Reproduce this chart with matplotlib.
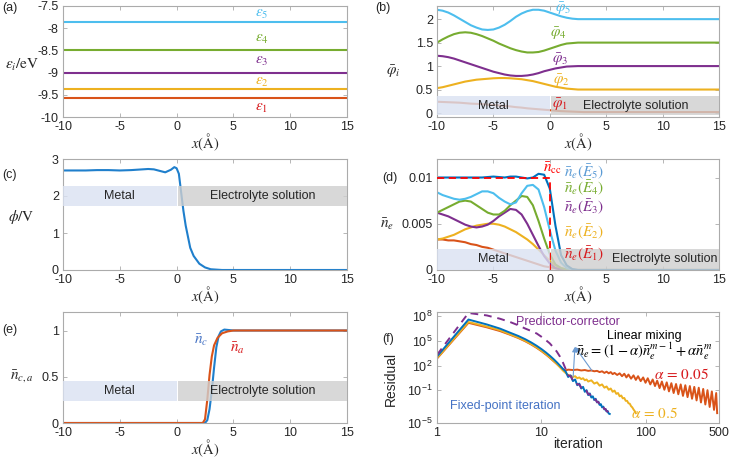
import matplotlib

matplotlib.use("Agg")
import matplotlib.pyplot as plt
import numpy as np

plt.rcParams["font.family"] = ["Liberation Sans", "DejaVu Sans"]
plt.rcParams["mathtext.fontset"] = "stix"
plt.rcParams["axes.unicode_minus"] = False

BLUE = "#0072BD"
ORANGE = "#D95319"
YELLOW = "#EDB120"
PURPLE = "#7E2F8E"
GREEN = "#77AC30"
CYAN = "#4DBEEE"
RED = "#D7191C"
INK = "#262626"
FRAME = "#ababab"

# (a) eigen-energies, flat in x
x_range = [-10, 15]
eps_levels = [-9.57, -9.36, -9.0, -8.48, -7.85]
eps_labels = [r"$\varepsilon_1$", r"$\varepsilon_2$", r"$\varepsilon_3$", r"$\varepsilon_4$", r"$\varepsilon_5$"]
eps_label_y = [-9.8, -9.22, -8.75, -8.25, -7.67]

# shared grid for (b) and (d)
x_grid = [-10, -9.5, -9, -8.5, -8, -7.5, -7, -6.5, -6, -5.5, -5, -4.5, -4, -3.5, -3,
          -2.5, -2, -1.5, -1, -0.5, 0, 0.5, 1, 1.5, 2, 2.5, 3, 4, 15]

# (b) wave functions (offset)
phi1 = [0.24, 0.235, 0.23, 0.225, 0.22, 0.21, 0.20, 0.195, 0.19, 0.18, 0.17, 0.16, 0.15, 0.14, 0.125,
        0.115, 0.10, 0.09, 0.08, 0.07, 0.06, 0.05, 0.04, 0.035, 0.03, 0.025, 0.02, 0.02, 0.02]
phi2 = [0.53, 0.55, 0.58, 0.61, 0.64, 0.67, 0.69, 0.71, 0.72, 0.73, 0.74, 0.745, 0.745, 0.74, 0.73,
        0.72, 0.70, 0.68, 0.65, 0.62, 0.59, 0.56, 0.54, 0.52, 0.51, 0.50, 0.50, 0.50, 0.50]
phi3 = [1.22, 1.21, 1.19, 1.16, 1.12, 1.08, 1.04, 1.00, 0.96, 0.92, 0.88, 0.85, 0.82, 0.80, 0.79,
        0.79, 0.80, 0.82, 0.85, 0.89, 0.92, 0.95, 0.97, 0.99, 0.995, 1.0, 1.0, 1.0, 1.0]
phi4 = [1.50, 1.57, 1.63, 1.68, 1.71, 1.72, 1.71, 1.68, 1.64, 1.59, 1.54, 1.48, 1.43, 1.38, 1.34,
        1.31, 1.29, 1.29, 1.30, 1.33, 1.37, 1.41, 1.45, 1.48, 1.49, 1.50, 1.50, 1.50, 1.50]
phi5 = [2.20, 2.18, 2.14, 2.08, 2.01, 1.94, 1.87, 1.82, 1.78, 1.77, 1.78, 1.82, 1.88, 1.96, 2.05,
        2.12, 2.17, 2.20, 2.20, 2.18, 2.14, 2.10, 2.06, 2.03, 2.01, 2.00, 2.00, 2.00, 2.00]
phi_label_xy = [(0.9, 0.17), (1.05, 0.70), (0.9, 1.13), (0.75, 1.70), (1.17, 2.23)]

# (c) electrostatic potential
x_pot = [-10, -9, -8, -7, -6, -5, -4, -3, -2.5, -2, -1.5, -1, -0.5, -0.2, 0, 0.2, 0.4, 0.6,
         0.8, 1.0, 1.2, 1.5, 2.0, 2.5, 3, 4, 15]
pot = [2.69, 2.69, 2.69, 2.70, 2.70, 2.69, 2.70, 2.72, 2.73, 2.72, 2.68, 2.64, 2.71, 2.78, 2.75, 2.6,
       2.1, 1.6, 1.2, 0.9, 0.6, 0.38, 0.17, 0.07, 0.02, 0.0, 0.0]

# (d) electron densities
n_total = [0.0100, 0.0100, 0.0100, 0.0100, 0.0100, 0.0100, 0.0100, 0.0100, 0.0100, 0.01005, 0.0101,
           0.01005, 0.0100, 0.0101, 0.0101, 0.0100, 0.0099, 0.0100, 0.0104, 0.0103, 0.0088, 0.0048,
           0.0016, 0.0005, 0.0001, 0, 0, 0, 0]
n_e5 = [0.0084, 0.0081, 0.0079, 0.0077, 0.0076, 0.0077, 0.0079, 0.0082, 0.0085, 0.0085, 0.0083, 0.0078,
        0.0074, 0.0071, 0.0073, 0.0083, 0.0091, 0.0092, 0.0087, 0.0068, 0.0043, 0.0021, 0.0008, 0.0002,
        0.00005, 0, 0, 0, 0]
n_e4 = [0.0062, 0.0065, 0.0068, 0.0071, 0.0074, 0.0075, 0.0074, 0.0070, 0.0066, 0.0062, 0.0060, 0.0060,
        0.0064, 0.0070, 0.0075, 0.0080, 0.0079, 0.0070, 0.0053, 0.0034, 0.0017, 0.0006, 0.0002, 0.00005,
        0, 0, 0, 0, 0]
n_e3 = [0.0062, 0.0060, 0.0058, 0.0055, 0.0052, 0.0049, 0.0047, 0.0046, 0.0047, 0.0049, 0.0053, 0.0058,
        0.0062, 0.0066, 0.0065, 0.0060, 0.0050, 0.0038, 0.0026, 0.0015, 0.0007, 0.0002, 0.00005, 0,
        0, 0, 0, 0, 0]
n_e2 = [0.0033, 0.0034, 0.0036, 0.0038, 0.0041, 0.0044, 0.0046, 0.0048, 0.0049, 0.0050, 0.0050, 0.0049,
        0.0047, 0.0044, 0.0041, 0.0037, 0.0033, 0.0028, 0.0022, 0.0016, 0.0010, 0.0005, 0.0002, 0.00005,
        0, 0, 0, 0, 0]
n_e1 = [0.0033, 0.0033, 0.0032, 0.0032, 0.0031, 0.0030, 0.0028, 0.0027, 0.0025, 0.0024, 0.0022, 0.0020,
        0.0018, 0.0016, 0.0014, 0.0012, 0.0010, 0.0008, 0.0006, 0.0004, 0.0003, 0.0002, 0.0001, 0.00005,
        0, 0, 0, 0, 0]
n_cc = 0.01
n_label_y = [0.0017, 0.0041, 0.0068, 0.0088, 0.0106]

# (e) ion densities
x_cation = [-10, 2.5, 2.7, 2.9, 3.1, 3.3, 3.5, 3.7, 3.9, 4.2, 4.6, 5, 15]
n_cation = [0, 0, 0.03, 0.15, 0.35, 0.6, 0.82, 0.94, 0.99, 1.01, 1.005, 1.0, 1.0]
x_anion = [-10, 2.3, 2.5, 2.7, 2.9, 3.1, 3.3, 3.6, 4.0, 4.5, 5, 15]
n_anion = [0, 0, 0.04, 0.25, 0.52, 0.72, 0.84, 0.92, 0.97, 0.99, 1.0, 1.0]

# (f) convergence histories, log10(residual)
fixed_log = [3.1, 7.6, 7.0, 6.5, 6.0, 5.6, 5.2, 4.8, 4.4, 4.0, 3.6, 3.2, 2.8, 2.4, 2.0, 1.6, 1.3,
             0.6, 0.8, 0.1, 0.3, -0.4, -0.2, -0.8, -0.6, -1.2, -1.0, -1.6, -1.4, -1.9, -1.75, -2.2,
             -2.05, -2.5, -2.4, -2.8, -2.7, -3.1, -3.0, -3.35, -3.3, -3.6, -3.55, -3.85, -3.9]
pc_log = [3.3, 8.4, 8.1, 7.7, 7.3, 6.9, 6.5, 6.2, 5.9, 5.5, 5.1, 4.7, 4.2, 3.7, 3.1, 2.4, 1.6, 0.8,
          0.7, 0.2, 0.2, -0.3, -0.3, -0.7, -0.7, -1.1, -1.1, -1.5, -1.5, -1.85, -1.85, -2.15, -2.15,
          -2.45, -2.45, -2.75, -2.75, -3.05, -3.05, -3.3, -3.3, -3.55, -3.6, -3.8, -3.85]
half_it = [1, 2, 3, 4, 5, 6, 7, 8, 9, 10, 11, 12, 13, 14, 15, 16, 17, 18, 19, 20, 21, 22, 23, 24, 25,
           26, 27, 28, 30, 32, 34, 36, 38, 40, 42, 44, 46, 48, 50, 52, 54, 56, 58, 60, 62, 64, 66,
           68, 70, 72, 74, 76, 78, 80]
half_log = [2.9, 7.3, 6.75, 6.3, 5.8, 5.4, 5.0, 4.6, 4.2, 3.8, 3.4, 3.0, 2.6, 2.2, 1.8, 1.4, 1.1,
            0.85, 0.75, 0.6, 0.7, 0.45, 0.55, 0.35, 0.45, 0.2, 0.3, 0.05, 0.2, -0.2, -0.05, -0.45,
            -0.3, -0.7, -0.55, -0.95, -0.8, -1.2, -1.05, -1.45, -1.35, -1.75, -1.65, -2.0, -1.95,
            -2.3, -2.3, -2.6, -2.65, -2.95, -3.1, -3.35, -3.55, -3.8]
slow_it = [1, 2, 3, 4, 5, 6, 7, 8, 9, 10, 11, 12, 13, 14, 15, 16, 17, 18, 20, 22, 24, 26, 28, 30,
           32, 34, 36, 38, 40, 42, 44, 46, 48, 50, 53, 56, 59, 62, 65, 68, 72, 76, 80, 84, 89, 94,
           99, 104, 110, 116, 122, 128, 135, 142, 150, 158, 166, 175, 184, 194, 204, 215, 226, 238,
           250, 263, 276, 290, 305, 320, 336, 353, 370, 388, 407, 427, 448, 470, 480]
slow_log = [2.85, 7.2, 6.65, 6.2, 5.75, 5.35, 4.95, 4.55, 4.15, 3.75, 3.35, 2.95, 2.55, 2.2, 1.85,
            1.55, 1.4, 1.5, 1.45, 1.5, 1.4, 1.45, 1.35, 1.4, 1.3, 1.35, 1.2, 1.3, 1.1, 1.25, 1.05,
            1.2, 0.95, 1.1, 0.85, 1.05, 0.7, 1.0, 0.55, 0.9, 0.4, 0.8, 0.25, 0.7, 0.1, 0.55, -0.1,
            0.45, -0.3, 0.3, -0.5, 0.15, -0.75, 0.05, -0.95, -0.05, -1.15, -0.15, -1.35, -0.25,
            -1.5, -0.3, -1.7, -0.4, -1.85, -0.5, -2.05, -0.6, -2.25, -0.7, -2.5, -0.85, -2.75, -1.0,
            -3.05, -1.15, -3.4, -1.35, -3.8]

metal_span = (-10, 0)
electrolyte_span = (0.15, 15)


def _style(ax, xticks, yticks, ylim, xlim=(-10, 15)):
    ax.set_xlim(*xlim)
    ax.set_ylim(*ylim)
    ax.set_xticks(xticks)
    ax.set_yticks(yticks)
    for s in ax.spines.values():
        s.set_color(FRAME)
        s.set_linewidth(0.8)
    ax.tick_params(direction="in", top=True, right=True, length=3, width=0.6,
                   color=FRAME, labelcolor=INK, labelsize=9, pad=3)
    ax.tick_params(which="minor", length=0)


def _xlabel(ax, text=r"$x(\mathrm{Å})$", size=10.5):
    ax.set_xlabel(text, fontsize=size, color=INK)
    ax.xaxis.set_label_coords(0.5, -0.13)


def _ylabel(ax, text, x, y, rotation=0, size=11):
    ax.set_ylabel(text, rotation=rotation, fontsize=size, color=INK, va="center", ha="center")
    ax.yaxis.set_label_coords(x, y)


def _regions(ax, y0, y1, metal_x=-5, sol_x=7.6):
    ax.fill_between(metal_span, y0, y1, color="#DAE2F2", alpha=0.8, lw=0, zorder=5)
    ax.fill_between(electrolyte_span, y0, y1, color="#CFCFCF", alpha=0.8, lw=0, zorder=5)
    ym = (y0 + y1) / 2
    ax.text(metal_x, ym, "Metal", ha="center", va="center", fontsize=9, color=INK, zorder=6)
    ax.text(sol_x, ym, "Electrolyte solution", ha="center", va="center", fontsize=9, color=INK, zorder=6)


fig = plt.figure(figsize=(7.3, 4.58), dpi=100)
L, R = 63 / 730, 437 / 730
WL, WR = 284 / 730, 282 / 730
H = 111 / 458
rows = [(458 - 117) / 458, (458 - 270) / 458, (458 - 423) / 458]

ax_a = fig.add_axes([L, rows[0], WL, H])
ax_b = fig.add_axes([R, rows[0], WR, H])
ax_c = fig.add_axes([L, rows[1], WL, H])
ax_d = fig.add_axes([R, rows[1], WR, H])
ax_e = fig.add_axes([L, rows[2], WL, H])
ax_f = fig.add_axes([R, rows[2], WR, H])
xt = [-10, -5, 0, 5, 10, 15]

# (a)
eps_colors = [ORANGE, YELLOW, PURPLE, GREEN, CYAN]
eps_text_colors = [RED, YELLOW, PURPLE, GREEN, CYAN]
for lvl, c in zip(eps_levels, eps_colors):
    ax_a.plot(x_range, [lvl, lvl], color=c, lw=1.5)
for lab, ly, c in zip(eps_labels, eps_label_y, eps_text_colors):
    ax_a.text(7.5, ly, lab, color=c, fontsize=11, ha="center", va="center")
_style(ax_a, xt, [-10, -9.5, -9, -8.5, -8, -7.5], (-10, -7.5))
ax_a.set_yticklabels(["-10", "-9.5", "-9", "-8.5", "-8", "-7.5"])
_xlabel(ax_a)
_ylabel(ax_a, r"$\varepsilon_i/\mathrm{eV}$", -0.145, 0.47)

# (b)
phis = [phi1, phi2, phi3, phi4, phi5]
for i, (p, c, tc) in enumerate(zip(phis, eps_colors, eps_text_colors)):
    ax_b.plot(x_grid, p, color=c, lw=1.5)
    lx, ly = phi_label_xy[i]
    ax_b.text(lx, ly, r"$\bar{\varphi}_%d$" % (i + 1), color=tc, fontsize=11,
              ha="center", va="center", zorder=7)
_regions(ax_b, -0.04, 0.355, -5, 7.6)
_style(ax_b, xt, [0, 0.5, 1, 1.5, 2], (-0.085, 2.28))
ax_b.set_yticklabels(["0", "0.5", "1", "1.5", "2"])
_xlabel(ax_b)
_ylabel(ax_b, r"$\bar{\varphi}_i$", -0.156, 0.41)

# (c)
ax_c.plot(x_pot, pot, color="#1F7FCC", lw=1.5)
_regions(ax_c, 1.74, 2.28, -5, 7.6)
_style(ax_c, xt, [0, 1, 2, 3], (0, 3))
_xlabel(ax_c)
_ylabel(ax_c, r"$\phi/\mathrm{V}$", -0.148, 0.48)

# (d)
ax_d.plot(x_grid, n_e1, color=ORANGE, lw=1.5)
ax_d.plot(x_grid, n_e2, color=YELLOW, lw=1.5)
ax_d.plot(x_grid, n_e3, color=PURPLE, lw=1.5)
ax_d.plot(x_grid, n_e4, color=GREEN, lw=1.5)
ax_d.plot(x_grid, n_e5, color=CYAN, lw=1.5)
ax_d.plot(x_grid, n_total, color=BLUE, lw=1.5)
ax_d.plot([-10, 0, 0], [n_cc, n_cc, 0], color="red", lw=1.3, ls=(0, (4, 2.5)), zorder=4)
ax_d.text(-0.6, 0.0110, r"$\bar{n}_{\mathrm{cc}}$", color="red", fontsize=11, ha="left", va="center")
n_colors = [RED, YELLOW, PURPLE, GREEN, "#5B9BD5"]
for i, (ly, c) in enumerate(zip(n_label_y, n_colors)):
    ax_d.text(1.3, ly, r"$\bar{n}_e\left(\bar{E}_%d\right)$" % (i + 1), color=c, fontsize=11,
              ha="left", va="center", zorder=7)
_regions(ax_d, 0, 0.0023, -5, 10.2)
_style(ax_d, xt, [0, 0.005, 0.01], (0, 0.012))
ax_d.set_yticklabels(["0", "0.005", "0.01"])
_xlabel(ax_d)
_ylabel(ax_d, r"$\bar{n}_e$", -0.177, 0.41)

# (e)
ax_e.plot(x_cation, n_cation, color="#1F7FCC", lw=1.5)
ax_e.plot(x_anion, n_anion, color=ORANGE, lw=1.5)
ax_e.text(2.15, 0.90, r"$\bar{n}_c$", color="#4472C4", fontsize=11, ha="center", va="center")
ax_e.text(5.35, 0.81, r"$\bar{n}_a$", color=RED, fontsize=11, ha="center", va="center")
_regions(ax_e, 0.24, 0.45, -5, 7.6)
_style(ax_e, xt, [0, 0.5, 1], (0, 1.2))
ax_e.set_yticklabels(["0", "0.5", "1"])
_xlabel(ax_e)
_ylabel(ax_e, r"$\bar{n}_{c,a}$", -0.144, 0.42)

# (f)
fixed_it = list(range(1, len(fixed_log) + 1))
pc_it = list(range(1, len(pc_log) + 1))
ax_f.plot(slow_it, 10.0 ** np.array(slow_log), color=ORANGE, lw=1.4)
ax_f.plot(half_it, 10.0 ** np.array(half_log), color=YELLOW, lw=1.4)
ax_f.plot(fixed_it, 10.0 ** np.array(fixed_log), color=BLUE, lw=1.4)
ax_f.plot(pc_it, 10.0 ** np.array(pc_log), color=PURPLE, lw=1.4, ls=(0, (4, 3)))
ax_f.set_xscale("log")
ax_f.set_yscale("log")
_style(ax_f, [1, 10, 100, 500], [1e-5, 1e-1, 1e2, 1e5, 1e8], (1e-5, 3.3e8), xlim=(1, 500))
ax_f.set_xticklabels(["1", "10", "100", "500"])
ax_f.set_yticklabels([r"$\mathregular{10^{-5}}$", r"$\mathregular{10^{-1}}$",
                      r"$\mathregular{10^{2}}$", r"$\mathregular{10^{5}}$", r"$\mathregular{10^{8}}$"])
ax_f.minorticks_off()
for tail in [(20.1, 10 ** 0.65), (30.3, 10 ** 1.40)]:
    ax_f.annotate("", xy=(20.9, 1.9e4), xytext=tail,
                  arrowprops=dict(arrowstyle="-|>", color="#6C9BD2", lw=0.8,
                                  mutation_scale=7, shrinkA=0, shrinkB=0))
ax_f.text(17.9, 10 ** 7.3, "Predictor-corrector", color=PURPLE, fontsize=9, ha="center", va="center")
ax_f.text(96, 10 ** 5.54, "Linear mixing", color="black", fontsize=9, ha="center", va="center")
ax_f.text(96, 10 ** 3.68, r"$\bar{n}_e=(1-\alpha)\bar{n}_e^{m-1}+\alpha\bar{n}_e^{m}$",
          color="black", fontsize=10.5, ha="center", va="center")
ax_f.text(219, 10 ** 0.86, r"$\alpha\,=\,0.05$", color=RED, fontsize=11, ha="center", va="center")
ax_f.text(122, 10 ** -3.86, r"$\alpha\,=\,0.5$", color=YELLOW, fontsize=11, ha="center", va="center")
ax_f.text(4.5, 10 ** -2.98, "Fixed-point iteration", color="#4472C4", fontsize=9,
          ha="center", va="center")
ax_f.set_xlabel("iteration", fontsize=10, color=INK)
ax_f.xaxis.set_label_coords(0.5, -0.13)
_ylabel(ax_f, "Residual", -0.165, 0.40, rotation=90, size=10)

for lab, px, py in [("(a)", 2, 8), ("(b)", 375, 8), ("(c)", 2, 175),
                    ("(d)", 382, 178), ("(e)", 2, 330), ("(f)", 382, 339)]:
    fig.text(px / 730, 1 - py / 458, lab, fontsize=9, color=INK, ha="left", va="center")

fig.savefig("out.png", dpi=100, facecolor="white")
